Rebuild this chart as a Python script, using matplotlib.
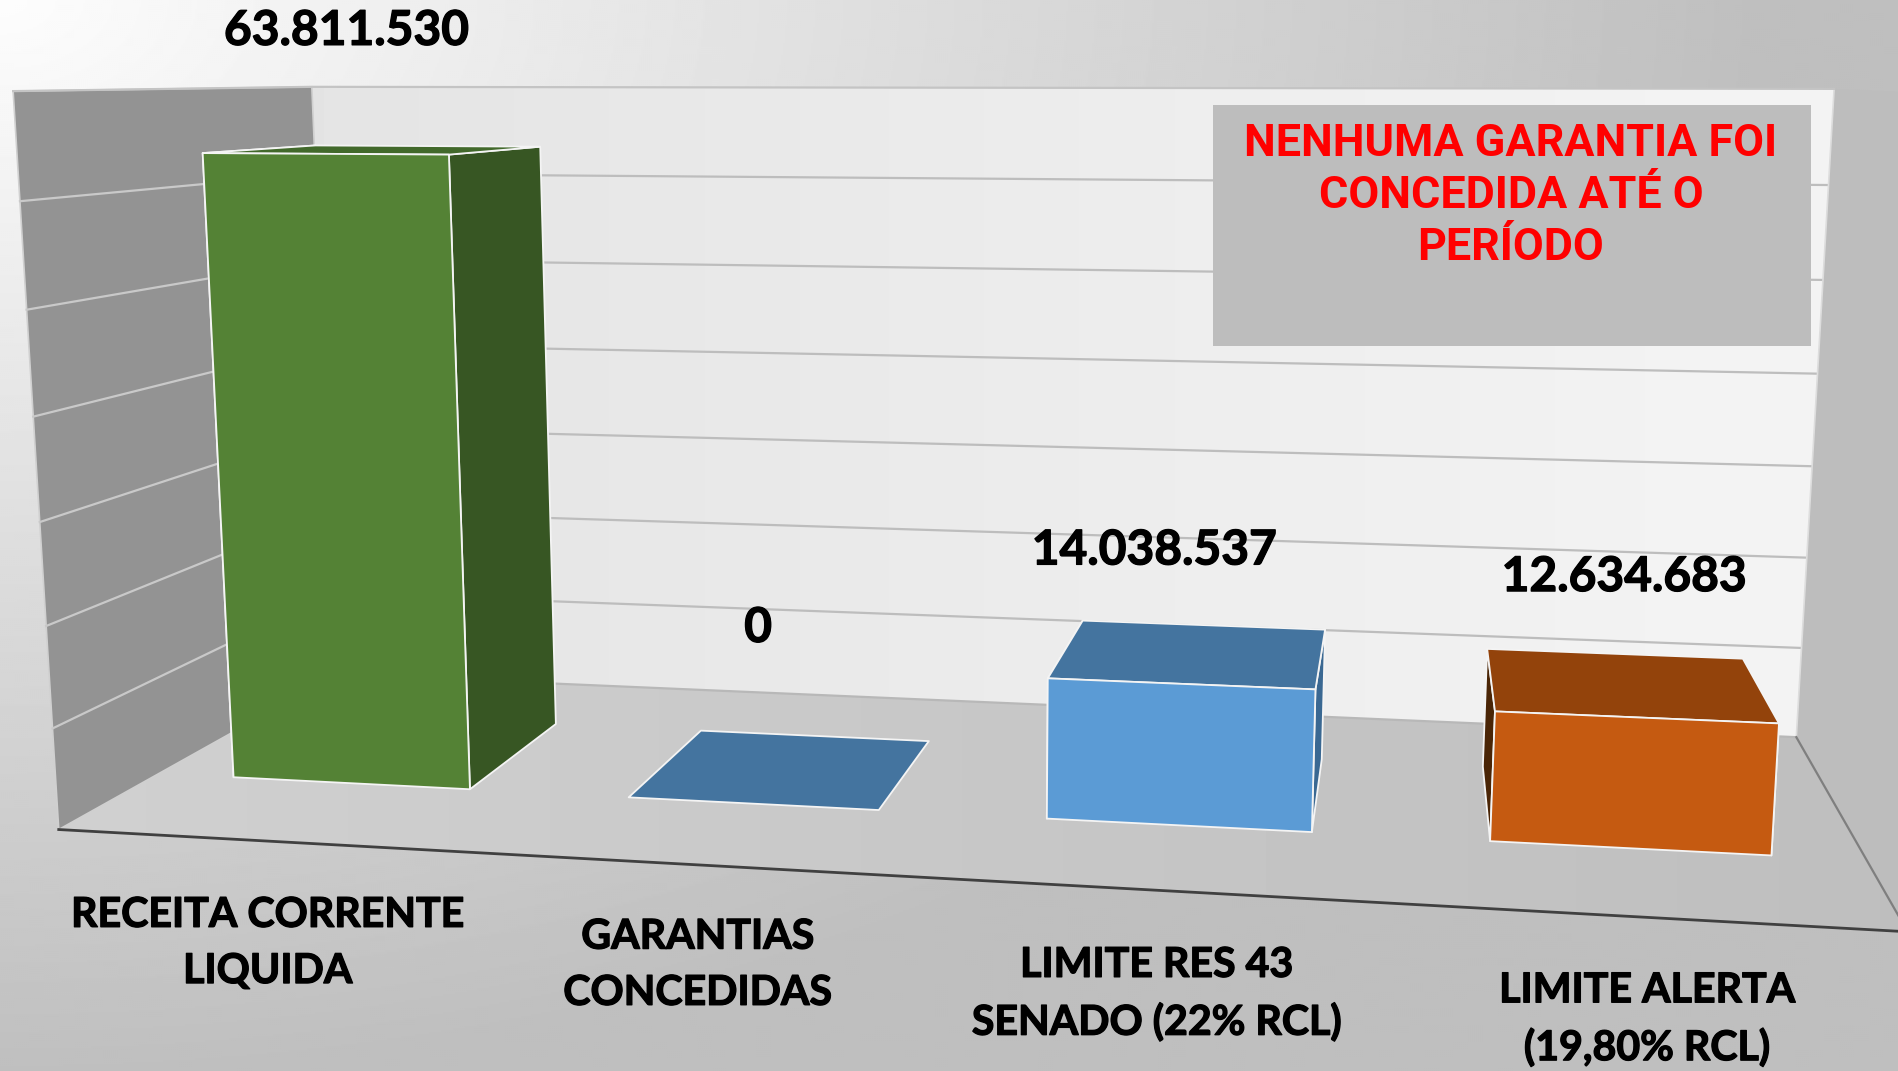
import matplotlib
matplotlib.use("Agg")
import matplotlib.pyplot as plt
import matplotlib.patheffects as pe
import numpy as np
from matplotlib.patches import Polygon

W, H = 1899, 1071
SCALE = 1899 / 1568

# chart data (millions)
categories = ["RECEITA CORRENTE\nLIQUIDA", "GARANTIAS\nCONCEDIDAS",
              "LIMITE RES 43\nSENADO (22% RCL)", "LIMITE ALERTA\n(19,80% RCL)"]
values = [63.811530, 0.0, 14.038537, 12.634683]
value_labels = ["63.811.530", "0", "14.038.537", "12.634.683"]
grid_values = [10, 20, 30, 40, 50, 60]
y_max = 70
note = "NENHUMA GARANTIA FOI\nCONCEDIDA ATÉ O\nPERÍODO"

# bar colours: front, top, side
front_colors = ["#548235", "#5B9BD5", "#5B9BD5", "#C55A11"]
top_colors = ["#42692B", "#44749F", "#44749F", "#93430B"]
side_colors = ["#375623", "#3A6892", "#3A6892", "#4A2506"]

# footprint of a bar inside its category slot, and in the depth of the floor
bar_x = (0.195, 0.8)
bar_z = (0.31, 0.72)

# world point (category, value, depth) -> where it sits in the picture (1568 wide)
calib_world = np.array([
    (0, 0, 0), (4, 0, 0), (0, 0, 1), (4, 0, 1), (0, 70, 0), (0, 70, 1), (4, 70, 1),
    (.195, 63.81, .31), (.8, 63.81, .31), (.8, 63.81, .72), (.195, 63.81, .72),
    (.195, 0, .31), (.8, 0, .31), (.8, 0, .72),
    (1.195, 0, .31), (1.8, 0, .31), (1.8, 0, .72), (1.195, 0, .72),
    (2.195, 0, .31), (2.8, 0, .31), (2.195, 14.04, .31), (2.8, 14.04, .31), (2.195, 14.04, .72), (2.8, 14.04, .72),
    (3.195, 0, .31), (3.8, 0, .31), (3.195, 12.63, .31), (3.8, 12.63, .31), (3.195, 12.63, .72), (3.8, 12.63, .72),
], dtype=float)
calib_image = np.array([
    (50, 684), (1575, 770), (275, 557), (1483, 607), (10, 75), (263, 72), (1514, 73),
    (167, 126), (370, 127), (446, 122), (240, 120),
    (195, 641), (389, 651), (461, 598),
    (520, 658), (726, 669), (768, 613), (580, 604),
    (864, 676), (1083, 687), (865, 560), (1086, 570), (895, 514), (1095, 521),
    (1230, 695), (1464, 707), (1234, 588), (1468, 598), (1229, 537), (1440, 545),
], dtype=float) * SCALE
# the box corners count for more than the bar corners
calib_weight = np.array([2.0] * 7 + [1.0] * 23)


def fit_camera(world, image, weight):
    rows = []
    rhs = []
    for (x, y, z), (u, v), k in zip(world, image, weight):
        rows.append([k * c for c in (x, y, z, 1, 0, 0, 0, 0, -u * x, -u * y, -u * z)])
        rows.append([k * c for c in (0, 0, 0, 0, x, y, z, 1, -v * x, -v * y, -v * z)])
        rhs += [k * u, k * v]
    p = np.linalg.lstsq(np.array(rows), np.array(rhs), rcond=None)[0]
    return np.append(p, 1).reshape(3, 4)


CAM = fit_camera(calib_world, calib_image, calib_weight)


def project(x, y, z):
    u, v, w = CAM @ np.array([x, y, z, 1.0])
    return u / w, v / w


def gradient_fill(ax, poly, c0, c1, horizontal=True):
    # grey ramp clipped on a polygon
    ramp = np.linspace(c0, c1, 256)
    img = ramp[None, :] if horizontal else ramp[:, None]
    xs = [p[0] for p in poly]
    ys = [p[1] for p in poly]
    im = ax.imshow(img, cmap="gray", vmin=0, vmax=255, aspect="auto", zorder=2,
                   extent=(min(xs), max(xs), max(ys), min(ys)))
    patch = Polygon(poly, closed=True, transform=ax.transData, fc="none", ec="none")
    ax.add_patch(patch)
    im.set_clip_path(patch)


fig = plt.figure(figsize=(W / 100, H / 100), dpi=100)
ax = fig.add_axes([0, 0, 1, 1])

# slide background
yy, xx = np.mgrid[0:H:2, 0:W:2]
t = np.clip(np.sqrt((xx / 1750) ** 2 + (yy / 1071) ** 2), 0, 1)
ax.imshow(253 - 62 * t, cmap="gray", vmin=0, vmax=255, extent=(0, W, H, 0), aspect="auto", zorder=1)

# box walls
floor = [project(0, 0, 0), project(4, 0, 0), project(4, 0, 1), project(0, 0, 1)]
back = [project(0, 0, 1), project(4, 0, 1), project(4, y_max, 1), project(0, y_max, 1)]
left = [project(0, 0, 0), project(0, 0, 1), project(0, y_max, 1), project(0, y_max, 0)]
right = [project(4, 0, 1), project(4, 0, 0), project(4, y_max, 0), project(4, y_max, 1)]

gradient_fill(ax, floor, 208, 190)
gradient_fill(ax, back, 228, 244)
ax.add_patch(Polygon(left, closed=True, fc="#939393", ec="#d0d0d0", lw=1.2, zorder=2.5))
ax.add_patch(Polygon(right, closed=True, fc="#bdbdbd", ec="none", zorder=2.5))

# grid lines on back and left wall
for g in grid_values:
    a, b, c = project(0, g, 0), project(0, g, 1), project(4, g, 1)
    ax.plot([a[0], b[0]], [a[1], b[1]], color="#c9c9c9", lw=1.6, zorder=3)
    ax.plot([b[0], c[0]], [b[1], c[1]], color="#bdbdbd", lw=1.6, zorder=3)

# box edges
a, b, c, d = project(0, 0, 1), project(4, 0, 1), project(4, y_max, 1), project(0, y_max, 1)
ax.plot([a[0], b[0]], [a[1], b[1]], color="#b8b8b8", lw=1.6, zorder=3)
ax.plot([b[0], c[0]], [b[1], c[1]], color="#dddddd", lw=1.2, zorder=3)
e = project(0, y_max, 0)
ax.plot([e[0], d[0], c[0]], [e[1], d[1], c[1]], color="#c4c4c4", lw=1.6, zorder=3)
f = project(4, 0, 0)
ax.plot([b[0], f[0]], [b[1], f[1]], color="#7f7f7f", lw=1.6, zorder=3)
g0 = project(0, 0, 0)
ax.plot([g0[0], f[0]], [g0[1], f[1]], color="#404040", lw=2.0, zorder=3)

# bars
for i, v in enumerate(values):
    x0, x1 = i + bar_x[0], i + bar_x[1]
    z0, z1 = bar_z
    front = [project(x0, 0, z0), project(x1, 0, z0), project(x1, v, z0), project(x0, v, z0)]
    top = [project(x0, v, z0), project(x1, v, z0), project(x1, v, z1), project(x0, v, z1)]
    side_r = [project(x1, 0, z0), project(x1, 0, z1), project(x1, v, z1), project(x1, v, z0)]
    side_l = [project(x0, 0, z0), project(x0, 0, z1), project(x0, v, z1), project(x0, v, z0)]
    edge = dict(ec="#f4f4f4", lw=1.3, joinstyle="round")
    if v > 0:
        ax.add_patch(Polygon(side_l, closed=True, fc=side_colors[i], zorder=4, **edge))
        ax.add_patch(Polygon(side_r, closed=True, fc=side_colors[i], zorder=4, **edge))
    ax.add_patch(Polygon(top, closed=True, fc=top_colors[i], zorder=5, **edge))
    if v > 0:
        ax.add_patch(Polygon(front, closed=True, fc=front_colors[i], zorder=6, **edge))

# text
heavy = [pe.withStroke(linewidth=0.9, foreground="black")]
label_font = dict(family="Lato", weight="bold", color="black", ha="center", va="center", zorder=8,
                  path_effects=heavy)
value_pos = [(286, 25.5), (626, 518.5), (953, 454.5), (1341, 476.5)]
cat_pos = [(221, 779), (576, 797), (955, 821), (1360, 842)]
for lab, (px, py) in zip(value_labels, value_pos):
    ax.text(px * SCALE, py * SCALE, lab, fontsize=34.5, **label_font)
for lab, (px, py) in zip(categories, cat_pos):
    ax.text(px * SCALE, py * SCALE, lab, fontsize=29.6, linespacing=1.64, **label_font)

# note box
ax.add_patch(plt.Rectangle((1213, 105), 598, 241, fc="#bdbdbd", ec="none", zorder=7))
ax.text(1511, 196, note, fontsize=32.3, family="Roboto", weight="bold",
        color="#ff0000", ha="center", va="center", linespacing=1.29, zorder=8)

ax.set_xlim(0, W)
ax.set_ylim(H, 0)
ax.axis("off")
fig.savefig("out.png", dpi=100)
